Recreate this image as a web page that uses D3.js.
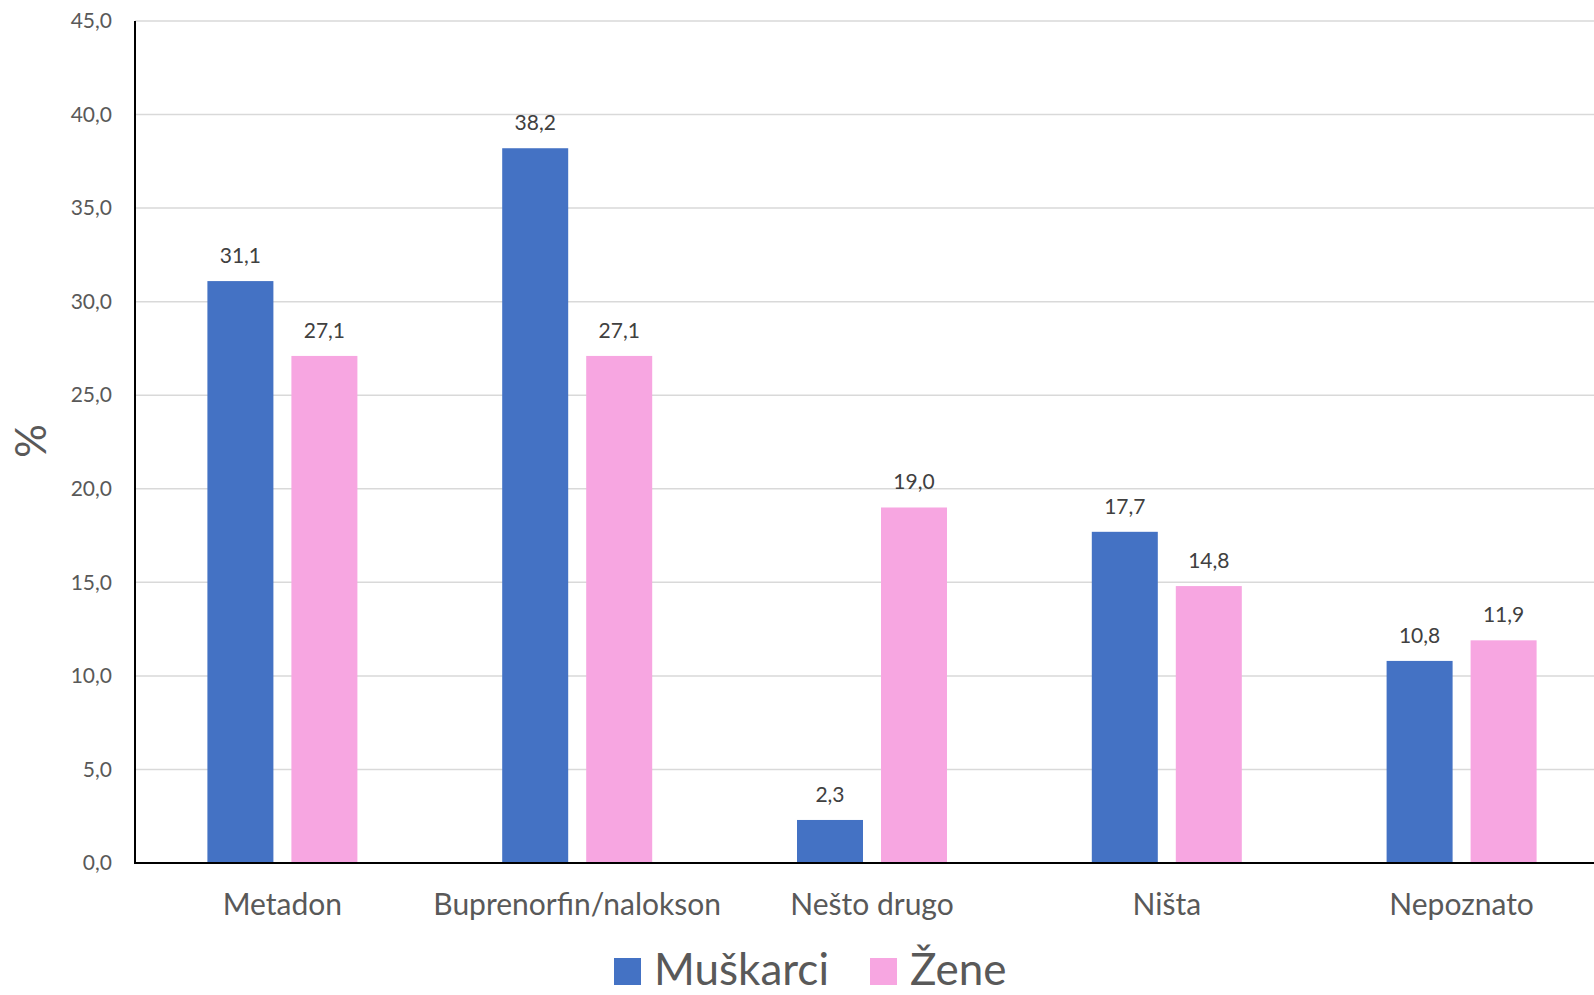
<!DOCTYPE html>
<html>
<head>
<meta charset="utf-8">
<script src="https://cdn.jsdelivr.net/npm/d3@7"></script>
<style>
  html, body { margin: 0; padding: 0; background: #ffffff; overflow: hidden; }
  svg { display: block; font-family: Lato, "Open Sans", sans-serif; }
</style>
</head>
<body>
<svg id="chart" width="1594" height="995"></svg>
<script>
const categories = ["Metadon", "Buprenorfin/nalokson", "Nešto drugo", "Ništa", "Nepoznato"];
const seriesNames = ["Muškarci", "Žene"];
const muskarci = [31.1, 38.2, 2.3, 17.7, 10.8];
const zene = [27.1, 27.1, 19.0, 14.8, 11.9];
const seriesColors = ["#4472c4", "#f7a6e1"];
const yTicks = [0, 5, 10, 15, 20, 25, 30, 35, 40, 45];
const yTitle = "%";

(function () {
const svg = d3.select("#chart");
const mLeft = 135, mRight = 1609, mTop = 21, mBottom = 863;
const fmt = v => v.toFixed(1).replace(".", ",");

const x = d3.scaleBand().domain(categories).range([mLeft, mRight]);
const y = d3.scaleLinear().domain([0, 45]).range([mBottom, mTop]);
const inner = d3.scaleBand().domain(seriesNames).range([0, 150]).paddingInner(18 / 84);

// gridlines
svg.append("g").selectAll("line").data(yTicks.filter(t => t > 0)).join("line")
  .attr("x1", mLeft).attr("x2", 1594)
  .attr("y1", d => y(d)).attr("y2", d => y(d))
  .attr("stroke", "#d9d9d9").attr("stroke-width", 1.5);

// y tick labels
const yAxis = d3.axisLeft(y).tickValues(yTicks).tickFormat(fmt).tickSize(0).tickPadding(23);
const gy = svg.append("g").attr("transform", `translate(${mLeft},0)`).call(yAxis);
gy.select(".domain").remove();
gy.selectAll("text").attr("font-size", 21).attr("fill", "#595959")
  .attr("font-family", "Lato, sans-serif");

// bars
const data = categories.map((c, i) => ({ cat: c, vals: [muskarci[i], zene[i]] }));
const groups = svg.append("g").selectAll("g").data(data).join("g")
  .attr("transform", d => `translate(${x(d.cat) + x.bandwidth() / 2 - 75},0)`);

groups.selectAll("rect").data(d => d.vals.map((v, j) => ({ s: seriesNames[j], v, j }))).join("rect")
  .attr("x", d => inner(d.s))
  .attr("width", inner.bandwidth())
  .attr("y", d => y(d.v))
  .attr("height", d => y(0) - y(d.v))
  .attr("fill", d => seriesColors[d.j]);

groups.selectAll("text").data(d => d.vals.map((v, j) => ({ s: seriesNames[j], v, j }))).join("text")
  .attr("x", d => inner(d.s) + inner.bandwidth() / 2)
  .attr("y", d => y(d.v) - 18)
  .attr("text-anchor", "middle")
  .attr("font-size", 21)
  .attr("fill", "#404040")
  .text(d => fmt(d.v));

// axes lines
svg.append("line").attr("x1", mLeft).attr("x2", mLeft).attr("y1", mTop).attr("y2", mBottom)
  .attr("stroke", "#000").attr("stroke-width", 2);
svg.append("line").attr("x1", mLeft - 1).attr("x2", 1594).attr("y1", mBottom).attr("y2", mBottom)
  .attr("stroke", "#000").attr("stroke-width", 2);

// x labels
svg.append("g").selectAll("text").data(categories).join("text")
  .attr("x", d => x(d) + x.bandwidth() / 2)
  .attr("y", 915)
  .attr("text-anchor", "middle")
  .attr("font-size", 30)
  .attr("fill", "#595959")
  .text(d => d);

// y title
svg.append("text")
  .attr("transform", "translate(46,441) rotate(-90)")
  .attr("text-anchor", "middle")
  .attr("font-size", 42)
  .attr("fill", "#595959")
  .text(yTitle);

// legend
const legendX = [614, 870];
const lg = svg.append("g").selectAll("g").data(seriesNames).join("g")
  .attr("transform", (d, i) => `translate(${legendX[i]},958)`);
lg.append("rect").attr("width", 27).attr("height", 27).attr("fill", (d, i) => seriesColors[i]);
lg.append("text").attr("x", 40).attr("y", 27).attr("font-size", 44).attr("fill", "#595959").text(d => d);
})();
</script>
</body>
</html>
